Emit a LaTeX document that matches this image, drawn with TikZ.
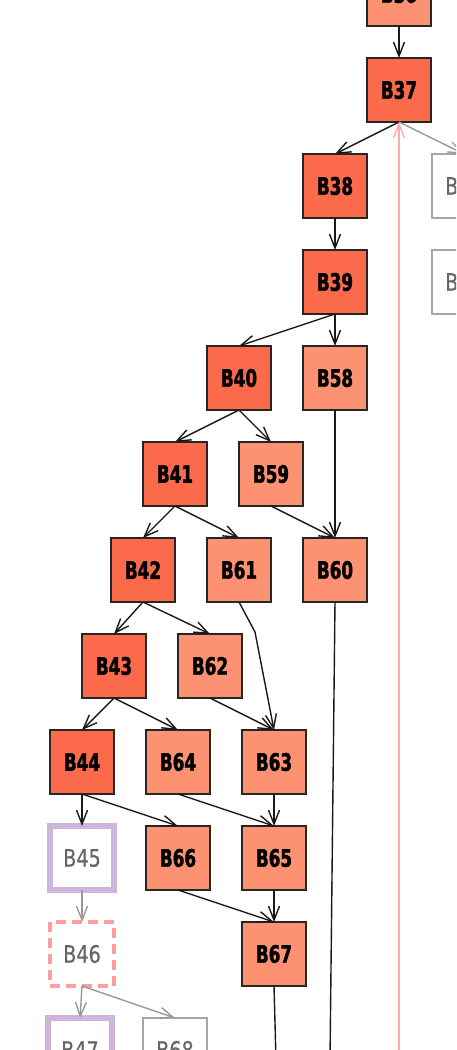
\documentclass[tikz,border=0pt]{standalone}
\usepackage{fontspec}
\newfontfamily\blockfont{DejaVu Sans}[FakeStretch=0.7, BoldFeatures={FakeBold=1.6}]
\newfontfamily\idlefont{DejaVu Sans}[FakeStretch=0.8, FakeBold=0.4]
\usetikzlibrary{arrows.meta,positioning}

\definecolor{hotfill}{HTML}{FB6A4A}
\definecolor{warmfill}{HTML}{FC9272}
\definecolor{heldline}{HTML}{CDB5DD}
\definecolor{waitline}{HTML}{FF9E9E}
\definecolor{backline}{HTML}{FFAAAA}

\begin{document}
\begin{tikzpicture}[
    x=1pt, y=-1pt,
    node distance=32pt and 32pt,
    block/.style={rectangle, draw=black!85, line width=1.5pt, minimum size=64pt, inner sep=0pt, outer sep=0pt, text centered, font=\blockfont\fontsize{24}{24}\selectfont\bfseries},
    hot/.style={block, fill=hotfill},
    warm/.style={block, fill=warmfill},
    idle/.style={block, draw=black!35, fill=white, text=black!60, font=\idlefont\fontsize{24}{24}\selectfont},
    held/.style={idle, draw=heldline, line width=6pt},
    wait/.style={idle, draw=waitline, line width=3.5pt, dash pattern=on 10pt off 6pt},
    arrow/.style={-{Straight Barb[length=14pt, width=11pt]}, line width=1.4pt, black!90},
    garrow/.style={arrow, black!40},
    parrow/.style={arrow, backline},
    line/.style={line width=1.4pt, black!90},
  ]
    \useasboundingbox (0,0) rectangle (456,1050);
    \clip (0,0) rectangle (456,1050);

    % Main chain
    \node[hot] (B37) at (399,90) {B37};
    \node[warm, above=of B37] (B36) {B36};
    \node[hot, below left=32pt and 0pt of B37] (B38) {B38};
    \node[idle, below right=32pt and 1pt of B37] (B69) {B69};
    \node[hot, below=of B38] (B39) {B39};
    \node[idle, below=of B69] (B70) {B70};

    % Split at B39
    \node[hot, below left=32pt and 32pt of B39] (B40) {B40};
    \node[warm, below=of B39] (B58) {B58};
    \node[hot, below=of B40, xshift=-64pt] (B41) {B41};
    \node[warm, below=of B40, xshift=32pt] (B59) {B59};
    \node[hot, below=of B41, xshift=-32pt] (B42) {B42};
    \node[warm, below=of B41, xshift=64pt] (B61) {B61};
    \node[warm, below=128pt of B58] (B60) {B60};
    \node[hot, below=of B42, xshift=-29pt] (B43) {B43};
    \node[warm, below=of B42, xshift=67pt] (B62) {B62};
    \node[hot, below=of B43, xshift=-32pt] (B44) {B44};
    \node[warm, below=of B43, xshift=64pt] (B64) {B64};
    \node[warm, below=of B62, xshift=64pt] (B63) {B63};

    % Lower rows
    \node[held, below=of B44] (B45) {B45};
    \node[warm, below=of B64] (B66) {B66};
    \node[warm, below=of B63] (B65) {B65};
    \node[wait, below=of B45] (B46) {B46};
    \node[warm, below=of B65] (B67) {B67};
    \node[held, below=of B46, xshift=-2pt] (B47) {B47};
    \node[idle, below=of B46, xshift=93pt] (B68) {B68};

    % Loose ends
    \coordinate (out60) at (330,1060);
    \coordinate (out67) at (276,1060);
    \coordinate (in37) at (399,1060);

    % Arrows
    \draw[arrow] (B36.south) -- (B37.north);
    \draw[arrow] (B37.south) -- (B38.north);
    \draw[garrow] (B37.south) -- (B69.north);
    \draw[parrow] (in37) -- (B37.south);
    \draw[arrow] (B38.south) -- (B39.north);
    \draw[arrow] (B39.south) -- (B40.north);
    \draw[arrow] (B39.south) -- (B58.north);
    \draw[arrow] (B40.south) -- (B41.north);
    \draw[arrow] (B40.south) -- (B59.north);
    \draw[arrow] (B41.south) -- (B42.north);
    \draw[arrow] (B41.south) -- (B61.north);
    \draw[arrow] (B58.south) -- (B60.north);
    \draw[arrow] (B59.south) -- (B60.north);
    \draw[arrow] (B42.south) -- (B43.north);
    \draw[arrow] (B42.south) -- (B62.north);
    \draw[arrow] (B61.south) -- ++(16,30) -- (B63.north);
    \draw[arrow] (B62.south) -- (B63.north);
    \draw[arrow] (B43.south) -- (B44.north);
    \draw[arrow] (B43.south) -- (B64.north);
    \draw[line] (B60.south) -- (out60);
    \draw[arrow] (B44.south) -- (B45.north);
    \draw[arrow] (B44.south) -- (B66.north);
    \draw[arrow] (B64.south) -- (B65.north);
    \draw[arrow] (B63.south) -- (B65.north);
    \draw[arrow] (B66.south) -- (B67.north);
    \draw[arrow] (B65.south) -- (B67.north);
    \draw[line] (B67.south) -- (out67);
    \draw[garrow] (B45.south) -- (B46.north);
    \draw[garrow] (B46.south) -- (B47.north);
    \draw[garrow] (B46.south) -- (B68.north);
  \end{tikzpicture}
\end{document}
